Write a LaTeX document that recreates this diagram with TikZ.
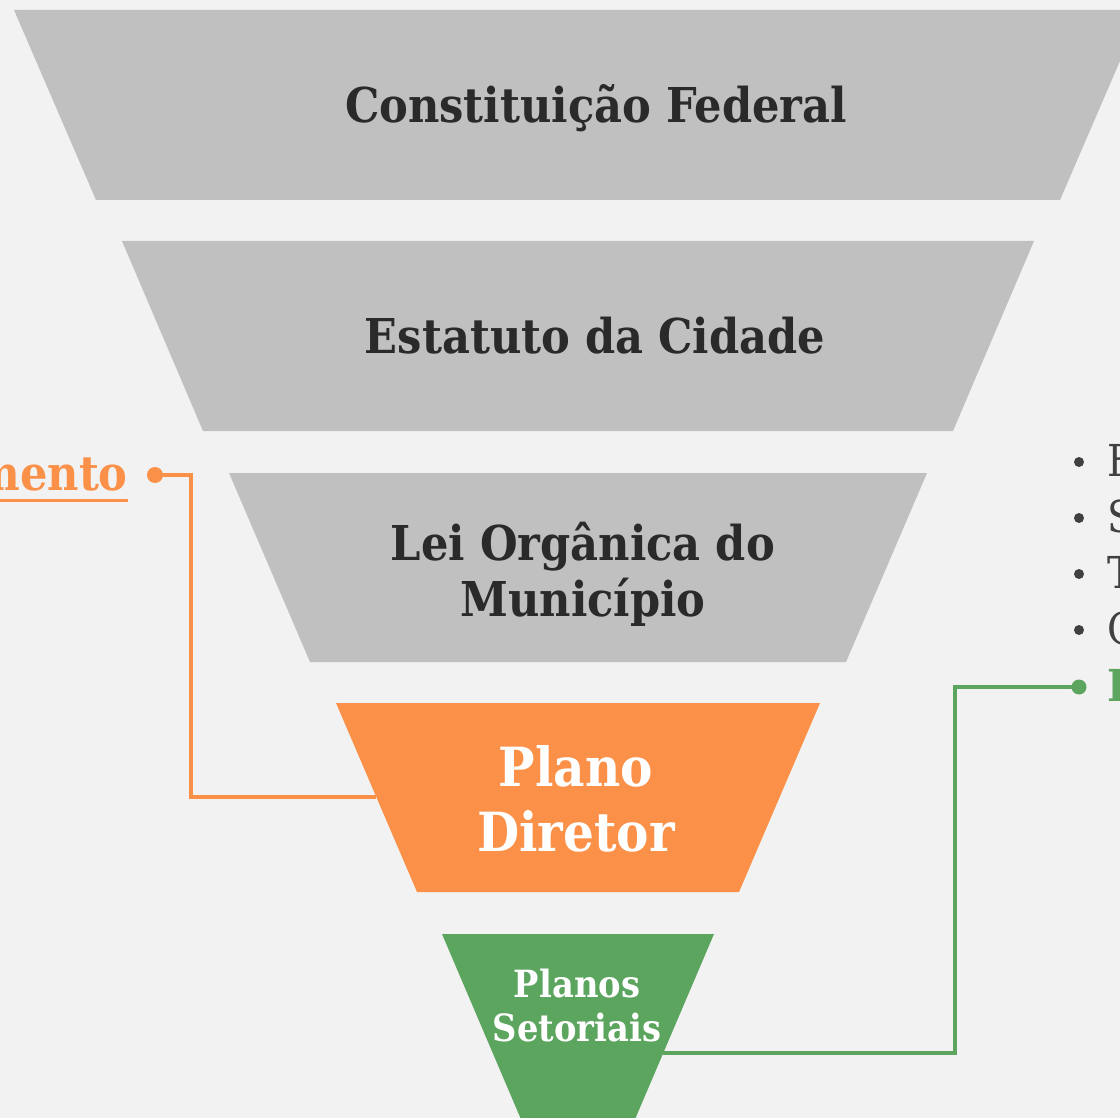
\documentclass[tikz,border=0pt]{standalone}
\usepackage{fontspec}
\setmainfont{DejaVu Serif}[FakeStretch=0.9]
\definecolor{bgc}{HTML}{F2F2F2}
\definecolor{grayc}{HTML}{C0C0C0}
\definecolor{darkt}{HTML}{2A2A2A}
\definecolor{listt}{HTML}{404040}
\definecolor{orangec}{HTML}{FB9148}
\definecolor{greenc}{HTML}{5BA55E}
\newcommand\trapz[6]{%
  \fill[#6] (578-#3,#1) -- (578+#3,#1) -- (578+#4,#2) -- (578-#4,#2) -- cycle;
  \coordinate (#5) at (578,{(#1+#2)/2});}
\tikzset{
  title/.style={font=\bfseries\fontsize{48}{56}\selectfont, text=darkt, align=center, inner sep=0pt},
  wtitle/.style={font=\bfseries\fontsize{54}{65}\selectfont, text=white, align=center, inner sep=0pt},
  stitle/.style={font=\bfseries\fontsize{37.5}{44}\selectfont, text=white, align=center, inner sep=0pt},
  listitem/.style={font=\fontsize{44}{56}\selectfont, text=listt, anchor=base west, inner sep=0pt},
  olink/.style={draw=orangec, line width=3.5pt},
  glink/.style={draw=greenc, line width=3.5pt},
}
\begin{document}
\begin{tikzpicture}[x=1pt,y=-1pt]
\fill[bgc] (0,0) rectangle (1120,1118);
\useasboundingbox (0,0) rectangle (1120,1118);
\clip (0,0) rectangle (1120,1118);
% trapezoids
\trapz{10}{200}{564}{482}{t1c}{grayc}
\trapz{241}{431}{456}{375}{t2c}{grayc}
\trapz{473}{662}{349}{268}{t3c}{grayc}
\trapz{703}{892}{242}{161}{t4c}{orangec}
\trapz{934}{1124}{136}{55}{t5c}{greenc}
% texts
\node[title, anchor=base] (cf) at (596,123) {Constituição Federal};
\node[title, anchor=base] (ec) at (595,353) {Estatuto da Cidade};
\node[title] (lo) at (583,574) {Lei Orgânica do\\Município};
\node[wtitle] (pd) at (576,799) {Plano\\Diretor};
\node[stitle] (ps) at (577,1006) {Planos\\Setoriais};
% left label
\node[font=\bfseries\fontsize{48}{56}\selectfont, text=orangec, anchor=base east, inner sep=0pt] (pl) at (128,490) {Planejamento};
\draw[orangec, line width=3pt] ([yshift=-10pt]pl.base west) -- ([yshift=-10pt]pl.base east);
\coordinate (od) at (155,475);
\coordinate (oe) at (376,797);
\fill[orangec] (od) circle (8);
\draw[olink] (od) -- ++(36,0) |- (oe);
% right list
\foreach \yy/\tt/\nm in {476/Habitação/l1, 532/Saneamento/l2, 588/Transporte/l3, 644/Cultura/l4}{
  \node[listitem] (\nm) at (1107,\yy) {\tt};
  \fill[listt] (1079,\yy-14) circle (5);
}
\node[listitem, font=\bfseries\fontsize{44}{56}\selectfont, text=greenc] (l5) at (1107,701) {Planos Setoriais};
\coordinate (gd) at (1079,687);
\coordinate (ge) at (663,1053);
\fill[greenc] (gd) circle (7.5);
\draw[glink] (gd) -- ++(-124,0) |- (ge);
\end{tikzpicture}
\end{document}
